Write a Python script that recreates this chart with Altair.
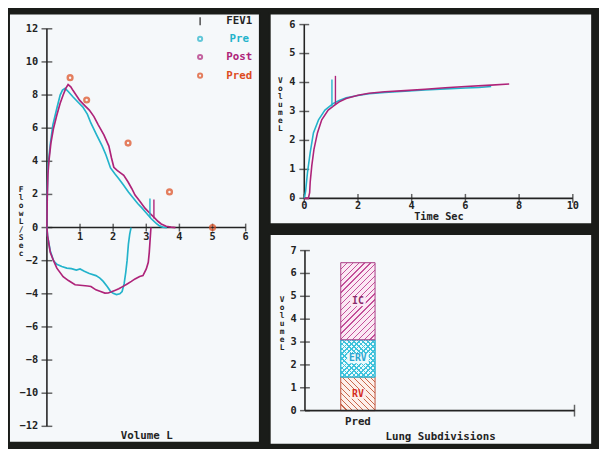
import altair as alt
import pandas as pd

# ---------------- data ----------------
# Flow-volume loop (Volume L  vs  Flow L/Sec)
pre_exp_vol = [0.00, 0.01, 0.03, 0.05, 0.10, 0.18, 0.30, 0.40, 0.47, 0.55, 0.65, 0.79, 0.95, 1.08, 1.22,
               1.33, 1.50, 1.67, 1.78, 1.92, 2.05, 2.17, 2.30, 2.46, 2.60, 2.74, 2.86, 3.00, 3.15, 3.30,
               3.40, 3.50, 3.62]
pre_exp_flow = [0.00, 2.00, 3.50, 4.00, 5.00, 6.20, 7.20, 8.00, 8.30, 8.40, 8.20, 7.88, 7.55, 7.29, 6.85,
                6.30, 5.60, 4.92, 4.40, 3.60, 3.25, 2.95, 2.60, 2.15, 1.80, 1.45, 1.20, 0.88, 0.53, 0.25,
                0.10, 0.03, 0.00]
pre_insp_vol = [0.00, 0.02, 0.10, 0.20, 0.30, 0.45, 0.60, 0.74, 0.89, 1.00, 1.13, 1.28, 1.48, 1.60, 1.70,
                1.82, 1.92, 2.00, 2.10, 2.20, 2.27, 2.33, 2.38, 2.42, 2.46, 2.50, 2.54]
pre_insp_flow = [0.00, -0.50, -1.40, -2.00, -2.22, -2.35, -2.45, -2.48, -2.57, -2.50, -2.64, -2.77, -2.90,
                 -3.05, -3.25, -3.56, -3.85, -3.97, -4.05, -4.00, -3.86, -3.40, -2.70, -2.00, -1.00, -0.40,
                 0.00]
post_exp_vol = [0.00, 0.01, 0.03, 0.06, 0.12, 0.20, 0.30, 0.40, 0.49, 0.57, 0.64, 0.72, 0.79, 0.99, 1.15,
                1.28, 1.42, 1.55, 1.72, 1.87, 1.95, 2.02, 2.12, 2.22, 2.32, 2.45, 2.56, 2.66, 2.80, 2.96,
                3.10, 3.25, 3.35, 3.45, 3.60, 3.75, 3.88]
post_exp_flow = [0.00, 1.80, 3.20, 4.00, 5.10, 6.00, 6.80, 7.50, 8.00, 8.40, 8.63, 8.50, 8.27, 7.68, 7.35,
                 7.09, 6.70, 6.20, 5.60, 4.92, 4.20, 3.64, 3.45, 3.30, 3.15, 2.75, 2.36, 1.96, 1.60, 1.17,
                 0.88, 0.58, 0.38, 0.22, 0.08, 0.03, 0.00]
post_insp_vol = [0.00, 0.02, 0.10, 0.20, 0.30, 0.49, 0.65, 0.85, 1.08, 1.23, 1.33, 1.48, 1.60, 1.75, 1.85,
                 1.95, 2.05, 2.17, 2.30, 2.41, 2.55, 2.66, 2.80, 2.90, 3.00, 3.06, 3.09, 3.11, 3.13, 3.14]
post_insp_flow = [0.00, -0.50, -1.49, -2.00, -2.45, -2.97, -3.20, -3.45, -3.50, -3.53, -3.56, -3.76, -3.85,
                  -3.96, -3.95, -3.88, -3.80, -3.70, -3.55, -3.42, -3.25, -3.10, -2.95, -2.90, -2.50, -2.10,
                  -1.50, -0.90, -0.30, 0.00]
pred_vol = [0.70, 1.20, 2.45, 3.70, 5.00]
pred_flow = [9.05, 7.70, 5.10, 2.15, 0.00]
fev1_series = ["Pre", "Post"]
fev1_fv_vol = [3.11, 3.23]
fev1_fv_lo = [0.60, 0.55]
fev1_fv_hi = [1.75, 1.70]

# Volume-time curves (Time Sec vs Volume L)
pre_vt_time = [0.00, 0.05, 0.12, 0.22, 0.34, 0.53, 0.77, 1.07, 1.30, 1.56, 2.00, 2.41, 3.00, 3.75, 4.50,
               5.25, 6.00, 6.50, 6.96]
pre_vt_vol = [0.00, 0.25, 0.90, 1.58, 2.26, 2.71, 3.05, 3.27, 3.38, 3.47, 3.55, 3.61, 3.66, 3.70, 3.74,
              3.78, 3.81, 3.83, 3.86]
post_vt_time = [0.00, 0.15, 0.20, 0.22, 0.28, 0.36, 0.49, 0.65, 0.89, 1.13, 1.30, 1.56, 2.00, 2.41, 3.00,
                3.75, 4.50, 5.25, 6.00, 6.80, 7.63]
post_vt_vol = [0.00, 0.00, 0.20, 0.56, 1.13, 1.69, 2.26, 2.71, 3.05, 3.22, 3.33, 3.45, 3.56, 3.63, 3.68,
               3.72, 3.77, 3.82, 3.86, 3.90, 3.95]
fev1_vt_time = [1.03, 1.16]
fev1_vt_lo = [3.17, 3.22]
fev1_vt_hi = [4.10, 4.23]

# Lung subdivisions (stacked, litres)
sub_group = "Pred"
sub_names = ["RV", "ERV", "IC"]
sub_values = [1.47, 1.63, 3.37]

# tick labels
fv_x_ticks = [1, 2, 3, 4, 5, 6]
fv_y_ticks = [-12, -10, -8, -6, -4, -2, 0, 2, 4, 6, 8, 10, 12]
vt_x_ticks = [0, 2, 4, 6, 8, 10]
vt_y_ticks = [0, 1, 2, 3, 4, 5, 6]
ls_y_ticks = [0, 1, 2, 3, 4, 5, 6, 7]
legend_labels = ["FEV1", "Pre", "Post", "Pred"]

# ---------------- style ----------------
FONT = "DejaVu Sans Mono"
INK = "#232323"
FRAME = "#1a1c19"
PAPER = "#f5f8fa"
C_PRE = "#23b3cb"
C_POST = "#ae2379"
C_PRED = "#dd4b1d"
SERIES_SCALE = alt.Scale(domain=["Pre", "Post"], range=[C_PRE, C_POST])
TICK_FS = 10.5
STACK_FS = 8
STACK_LH = 8.2


def one_row():
    return pd.DataFrame({"k": [0]})


def label(text, x, y, color=INK, size=11, align="center", baseline="middle", lh=None):
    kw = dict(text=text, font=FONT, fontWeight="bold", fontSize=size, color=color,
              align=align, baseline=baseline)
    if lh:
        kw["lineHeight"] = lh
    return alt.Chart(one_row()).mark_text(**kw).encode(x=alt.value(x), y=alt.value(y))


def fmt(v):
    return ("\u2212" + str(abs(v))) if v < 0 else str(v)


def curve_df(parts):
    frames = []
    for name, seg, xs, ys in parts:
        frames.append(pd.DataFrame({"x": xs, "y": ys, "series": name, "seg": seg, "i": range(len(xs))}))
    return pd.concat(frames, ignore_index=True)


def axis_parts(sx, sy, xticks, yticks, xlen, ylo, yhi, xtick_size, ytick_size, xdy, ydx):
    """Axis lines, ticks and tick labels drawn through the panel's scales."""
    X = lambda f: alt.X(f, type="quantitative", scale=sx, axis=None)
    Y = lambda f: alt.Y(f, type="quantitative", scale=sy, axis=None)
    lines = alt.Chart(pd.DataFrame({"x": [0, 0], "x2": [0, xlen], "y": [ylo, 0], "y2": [yhi, 0]})
                      ).mark_rule(color=INK, strokeWidth=1.6).encode(x=X("x"), x2="x2", y=Y("y"), y2="y2")
    xdf = pd.DataFrame({"v": xticks, "z": 0, "t": [fmt(v) for v in xticks]})
    ydf = pd.DataFrame({"v": yticks, "z": 0, "t": [fmt(v) for v in yticks]})
    xt = alt.Chart(xdf).mark_tick(orient="vertical", size=xtick_size, thickness=1.5, color=INK).encode(
        x=X("v"), y=Y("z"))
    yt = alt.Chart(ydf).mark_tick(orient="horizontal", size=ytick_size, thickness=1.5, color=INK).encode(
        x=X("z"), y=Y("v"))
    xl = alt.Chart(xdf).mark_text(font=FONT, fontWeight="bold", fontSize=TICK_FS, color=INK,
                                  baseline="middle", dy=xdy).encode(x=X("v"), y=Y("z"), text="t:N")
    yl = alt.Chart(ydf).mark_text(font=FONT, fontWeight="bold", fontSize=TICK_FS, color=INK,
                                  align="right", baseline="middle", dx=ydx).encode(x=X("z"), y=Y("v"), text="t:N")
    return [lines, xt, yt, xl, yl]


# ================= left panel: flow-volume =================
LW, LH = 256, 438
L_X0, L_XU = 38.7, 33.8
L_Y0, L_YU = 218.5, 16.9
sxL = alt.Scale(domain=[-L_X0 / L_XU, (LW - L_X0) / L_XU], nice=False, zero=False)
syL = alt.Scale(domain=[-(LH - L_Y0) / L_YU, L_Y0 / L_YU], nice=False, zero=False)

l_axis = axis_parts(sxL, syL, fv_x_ticks, fv_y_ticks, max(fv_x_ticks), min(fv_y_ticks), max(fv_y_ticks),
                    8, 11, 10, -9)

fv = curve_df([
    ("Pre", "pre_exp", pre_exp_vol, pre_exp_flow),
    ("Pre", "pre_insp", pre_insp_vol, pre_insp_flow),
    ("Post", "post_exp", post_exp_vol, post_exp_flow),
    ("Post", "post_insp", post_insp_vol, post_insp_flow),
])
l_lines = alt.Chart(fv).mark_line(strokeWidth=1.7).encode(
    x=alt.X("x:Q", scale=sxL, axis=None), y=alt.Y("y:Q", scale=syL, axis=None),
    color=alt.Color("series:N", scale=SERIES_SCALE, legend=None),
    detail="seg:N", order="i:Q")
l_fev1 = alt.Chart(pd.DataFrame({"x": fev1_fv_vol, "y": fev1_fv_lo, "y2": fev1_fv_hi,
                                 "series": fev1_series})).mark_rule(strokeWidth=1.4).encode(
    x=alt.X("x:Q", scale=sxL, axis=None), y=alt.Y("y:Q", scale=syL, axis=None), y2="y2:Q",
    color=alt.Color("series:N", scale=SERIES_SCALE, legend=None))
l_pred = alt.Chart(pd.DataFrame({"x": pred_vol, "y": pred_flow})).mark_point(
    shape="circle", size=24, strokeWidth=2.4, color=C_PRED, filled=False).encode(
    x=alt.X("x:Q", scale=sxL, axis=None), y=alt.Y("y:Q", scale=syL, axis=None))

# custom legend (top right of the panel)
leg_rows = [8.0, 26.0, 44.5, 63.5]
leg_colors = [INK, C_PRE, C_POST, C_PRED]
leg_layers = [alt.Chart(one_row()).mark_rule(color=INK, strokeWidth=1.2).encode(
    x=alt.value(195), y=alt.value(leg_rows[0] - 4), y2=alt.value(leg_rows[0] + 4))]
for lab, ry, col in zip(legend_labels, leg_rows, leg_colors):
    if lab != "FEV1":
        leg_layers.append(alt.Chart(one_row()).mark_point(
            shape="circle", size=18, strokeWidth=2, color=col, filled=False).encode(
            x=alt.value(195), y=alt.value(ry)))
    leg_layers.append(label(lab, 235, ry, color=col, size=11))

left = alt.layer(
    *l_axis, l_lines, l_fev1, l_pred, *leg_layers,
    label(["F", "l", "o", "w", "", "L", "/", "S", "e", "c"], 12.5, 176, baseline="top",
          lh=STACK_LH, size=STACK_FS),
    label("Volume L", 140.5, 431, size=11),
).properties(width=LW, height=LH)

# ================= top right: volume-time =================
TW, TH = 329, 215
T_X0, T_XU = 35.3, 27.4
T_Y0, T_YU = 188.7, 29.55
sxT = alt.Scale(domain=[-T_X0 / T_XU, (TW - T_X0) / T_XU], nice=False, zero=False)
syT = alt.Scale(domain=[-(TH - T_Y0) / T_YU, T_Y0 / T_YU], nice=False, zero=False)

t_axis = axis_parts(sxT, syT, vt_x_ticks, vt_y_ticks, max(vt_x_ticks), 0, max(vt_y_ticks),
                    9, 10, 8, -9)
vt = curve_df([
    ("Pre", "pre", pre_vt_time, pre_vt_vol),
    ("Post", "post", post_vt_time, post_vt_vol),
])
t_lines = alt.Chart(vt).mark_line(strokeWidth=1.6).encode(
    x=alt.X("x:Q", scale=sxT, axis=None), y=alt.Y("y:Q", scale=syT, axis=None),
    color=alt.Color("series:N", scale=SERIES_SCALE, legend=None),
    detail="seg:N", order="i:Q")
t_fev1 = alt.Chart(pd.DataFrame({"x": fev1_vt_time, "y": fev1_vt_lo, "y2": fev1_vt_hi,
                                 "series": fev1_series})).mark_rule(strokeWidth=1.4).encode(
    x=alt.X("x:Q", scale=sxT, axis=None), y=alt.Y("y:Q", scale=syT, axis=None), y2="y2:Q",
    color=alt.Color("series:N", scale=SERIES_SCALE, legend=None))

top = alt.layer(
    *t_axis, t_lines, t_fev1,
    label(["V", "o", "l", "u", "m", "e", "", "L"], 11, 65, baseline="top", lh=STACK_LH, size=STACK_FS),
    label("Time Sec", 172.7, 207.5, size=10.5),
).properties(width=TW, height=TH)

# ================= bottom right: lung subdivisions =================
BW, BH = 329, 215
B_X0, B_XEND = 36.0, 311.0
B_Y0, B_YU = 180.3, 23.33
BAR_L, BAR_R = 72.5, 107.5
sxB = alt.Scale(type="band", domain=[sub_group], range=[BAR_L, BAR_R], paddingInner=0, paddingOuter=0)
syB = alt.Scale(domain=[-(BH - B_Y0) / B_YU, B_Y0 / B_YU], nice=False, zero=False)

ls = pd.DataFrame({"group": sub_group, "name": sub_names, "val": sub_values})
ls["y1"] = ls["val"].cumsum()
ls["y0"] = ls["y1"] - ls["val"]
ls["ym"] = (ls["y0"] + ls["y1"]) / 2


def hatch(w, h, line, bg, period, frac, direction):
    r = w / h
    k = (r + 1) / (r * r + 1)
    n = max(1, round((w + h) / period))
    stops = []
    for i in range(n):
        a, b, c = i / n, (i + frac) / n, (i + 1) / n
        stops += [alt.GradientStop(offset=a, color=line), alt.GradientStop(offset=b, color=line),
                  alt.GradientStop(offset=b, color=bg), alt.GradientStop(offset=c, color=bg)]
    if direction == "/":
        return alt.LinearGradient(gradient="linear", stops=stops, x1=0, y1=0, x2=k * r, y2=k)
    return alt.LinearGradient(gradient="linear", stops=stops, x1=0, y1=1, x2=k * r, y2=1 - k)


bar_w = BAR_R - BAR_L
seg_h = {n: v * B_YU for n, v in zip(sub_names, sub_values)}
CLEAR = "rgba(255,255,255,0)"
seg_bg = {"IC": "#fbe9f4", "ERV": "#eefafd", "RV": "#fdf0ea"}
seg_styles = {
    "IC": [dict(fill=hatch(bar_w, seg_h["IC"], "#c4509a", seg_bg["IC"], 6.0, 0.22, "/"), stroke="#a83c84")],
    "ERV": [dict(fill=hatch(bar_w, seg_h["ERV"], "#3fc3dc", seg_bg["ERV"], 5.0, 0.33, "/"), stroke="#35b8d4"),
            dict(fill=hatch(bar_w, seg_h["ERV"], "#3fc3dc", CLEAR, 5.0, 0.33, "\\"), stroke="#35b8d4")],
    "RV": [dict(fill=hatch(bar_w, seg_h["RV"], "#c8684c", seg_bg["RV"], 6.0, 0.22, "\\"), stroke="#c0503a")],
}
seg_text_color = {"RV": "#d42a1e", "ERV": "#2aa6d0", "IC": "#8a2a6a"}

bar_layers = []
for name in sub_names:
    sub = alt.Chart(ls).transform_filter(alt.datum.name == name)
    for st in seg_styles[name]:
        bar_layers.append(sub.mark_bar(fill=st["fill"], stroke=st["stroke"], strokeWidth=1).encode(
            x=alt.X("group:N", scale=sxB, axis=None),
            y=alt.Y("y0:Q", scale=syB, axis=None), y2="y1:Q"))
    # cleared patch behind the segment label
    pw = 6.0 * len(name) + 4
    r = 10.0 / pw
    box = f"M-1,{-r}L1,{-r}L1,{r}L-1,{r}Z"
    bar_layers.append(sub.mark_point(shape=box, size=pw * pw, filled=True, opacity=1,
                                     color=seg_bg[name], strokeWidth=0).encode(
        x=alt.X("group:N", scale=sxB, axis=None), y=alt.Y("ym:Q", scale=syB, axis=None)))
    bar_layers.append(sub.mark_text(font=FONT, fontWeight="bold", fontSize=10,
                                    color=seg_text_color[name]).encode(
        x=alt.X("group:N", scale=sxB, axis=None), y=alt.Y("ym:Q", scale=syB, axis=None),
        text="name:N"))

b_yline = alt.Chart(pd.DataFrame({"y": [0], "y2": [max(ls_y_ticks)]})).mark_rule(
    color=INK, strokeWidth=1.6).encode(
    x=alt.value(B_X0), y=alt.Y("y:Q", scale=syB, axis=None), y2="y2:Q")
b_xline = alt.Chart(pd.DataFrame({"y": [0]})).mark_rule(color=INK, strokeWidth=1.6).encode(
    x=alt.value(B_X0), x2=alt.value(B_XEND), y=alt.Y("y:Q", scale=syB, axis=None))
ls_tick_df = pd.DataFrame({"v": ls_y_ticks, "t": [str(v) for v in ls_y_ticks]})
b_yt = alt.Chart(ls_tick_df).mark_tick(
    orient="horizontal", size=10, thickness=1.5, color=INK).encode(
    x=alt.value(B_X0), y=alt.Y("v:Q", scale=syB, axis=None))
b_yl = alt.Chart(ls_tick_df).mark_text(font=FONT, fontWeight="bold", fontSize=TICK_FS, color=INK,
                                       align="right", baseline="middle").encode(
    x=alt.value(B_X0 - 8.5), y=alt.Y("v:Q", scale=syB, axis=None), text="t:N")
b_end = alt.Chart(pd.DataFrame({"v": [0]})).mark_tick(
    orient="vertical", size=12, thickness=1.5, color=INK).encode(
    x=alt.value(B_XEND), y=alt.Y("v:Q", scale=syB, axis=None))
b_xl = alt.Chart(pd.DataFrame({"group": [sub_group], "z": [0]})).mark_text(
    font=FONT, fontWeight="bold", fontSize=11, color=INK, baseline="middle", dy=12).encode(
    x=alt.X("group:N", scale=sxB, axis=None), y=alt.Y("z:Q", scale=syB, axis=None), text="group:N")

bottom = alt.layer(
    *bar_layers, b_yline, b_xline, b_yt, b_yl, b_end, b_xl,
    label(["V", "o", "l", "u", "m", "e", "", "L"], 12.7, 63, baseline="top", lh=STACK_LH, size=STACK_FS),
    label("Lung Subdivisions", 174.3, 207.7, size=11),
).properties(width=BW, height=BH)

chart = alt.hconcat(
    left, alt.vconcat(top, bottom, spacing=8), spacing=8
).configure(
    background=FRAME,
    padding={"left": 0, "top": 0, "right": 6, "bottom": 3},
    font=FONT,
).configure_view(
    fill=PAPER, stroke=FRAME, strokeWidth=2,
)

chart.save("out.html", embed_options={"renderer": "svg", "actions": False})
